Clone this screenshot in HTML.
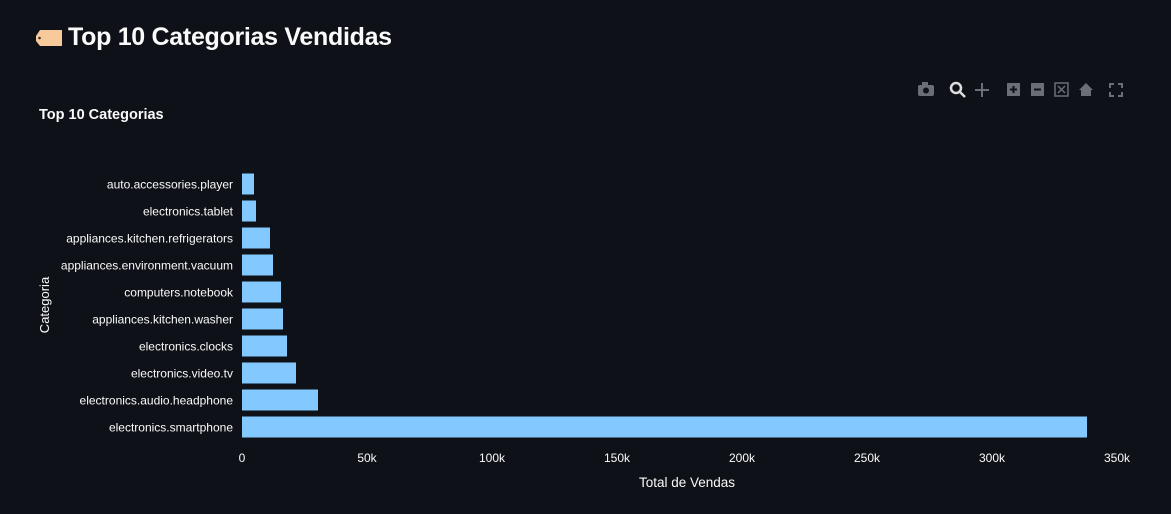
<!DOCTYPE html>
<html><head><meta charset="utf-8"><style>
body{margin:0;width:1171px;height:514px;background:#0e1117;overflow:hidden;font-family:"Liberation Sans",sans-serif;color:#fafafa}
.title{position:absolute;left:68px;top:23px;font-size:25px;font-weight:bold;letter-spacing:-0.3px}
.sub{position:absolute;left:39px;top:107px;font-size:14.5px;font-weight:bold}
svg{position:absolute;left:0;top:0}
</style></head><body>
<div class="title">Top 10 Categorias Vendidas</div>
<div class="sub">Top 10 Categorias</div>
<svg width="1171" height="514" id="chart">
  <g>
    <path d="M36 36 L40 30 L62 30 L62 46 L40 46 L36 41 Z" fill="#f7c99b"/>
    <circle cx="39.5" cy="38" r="1.3" fill="#333"/>
  </g>
  <g fill="#6b6e75">
    <g><rect x="918" y="85" width="16" height="11" rx="2"/><rect x="922" y="82" width="6" height="4"/><circle cx="926" cy="90.5" r="3" fill="#0e1117"/></g>
    <g><circle cx="956" cy="88" r="5" fill="none" stroke="#ddd" stroke-width="2.5"/><line x1="960" y1="92" x2="965" y2="97" stroke="#ddd" stroke-width="2.5"/></g>
    <g stroke="#6b6e75" stroke-width="2"><line x1="975" y1="90" x2="989" y2="90"/><line x1="982" y1="83" x2="982" y2="97"/></g>
    <g><rect x="1007" y="83" width="13" height="13"/><path d="M1010 89.5h7M1013.5 86v7" stroke="#0e1117" stroke-width="2"/></g>
    <g><rect x="1031" y="83" width="13" height="13"/><path d="M1034 89.5h7" stroke="#0e1117" stroke-width="2"/></g>
    <g stroke="#6b6e75" stroke-width="1.5" fill="none"><rect x="1055" y="83" width="13" height="13"/><path d="M1058 86l7 7M1065 86l-7 7"/></g>
    <g><path d="M1079 90l7-7 7 7h-2v6h-10v-6z"/></g>
    <g stroke="#6b6e75" stroke-width="2" fill="none"><path d="M1110 88v-4h4M1118 84h4v4M1122 92v4h-4M1114 96h-4v-4"/></g>
  </g>
  <text x="49" y="305" transform="rotate(-90 49 305)" text-anchor="middle" font-size="13" fill="#fafafa">Categoria</text>
  <text x="687" y="487" text-anchor="middle" font-size="13.5" fill="#fafafa">Total de Vendas</text>
  <g id="bars"></g>
</svg>
<script>
const categories=["auto.accessories.player","electronics.tablet","appliances.kitchen.refrigerators","appliances.environment.vacuum","computers.notebook","appliances.kitchen.washer","electronics.clocks","electronics.video.tv","electronics.audio.headphone","electronics.smartphone"];
const sales=[4800,5600,11200,12400,15600,16400,18000,21600,30400,338000];
const tickValues=[0,50000,100000,150000,200000,250000,300000,350000];
const tickLabels=["0","50k","100k","150k","200k","250k","300k","350k"];
const ns="http://www.w3.org/2000/svg";
const x0=242,x1=1117,xMax=350000;
const xs=v=>x0+(v/xMax)*(x1-x0);
const ys=i=>184+i*27;
const g=document.getElementById('bars');
categories.forEach((c,i)=>{
  const r=document.createElementNS(ns,'rect');
  r.setAttribute('x',x0);r.setAttribute('y',ys(i)-10.5);
  r.setAttribute('width',xs(sales[i])-x0);r.setAttribute('height',21);
  r.setAttribute('fill','#83c9ff');
  
  
  g.appendChild(r);
  const t=document.createElementNS(ns,'text');
  t.setAttribute('x',233);t.setAttribute('y',ys(i)+4.5);
  t.setAttribute('text-anchor','end');t.setAttribute('font-size','12');t.setAttribute('fill','#fafafa');
  t.textContent=c;
  
  
  g.appendChild(t);
});
tickValues.forEach((v,i)=>{
  const t=document.createElementNS(ns,'text');
  t.setAttribute('x',xs(v));t.setAttribute('y',462);
  t.setAttribute('text-anchor','middle');t.setAttribute('font-size','12');t.setAttribute('fill','#fafafa');
  t.textContent=tickLabels[i];
  
  
  g.appendChild(t);
});
</script>
</body></html>
